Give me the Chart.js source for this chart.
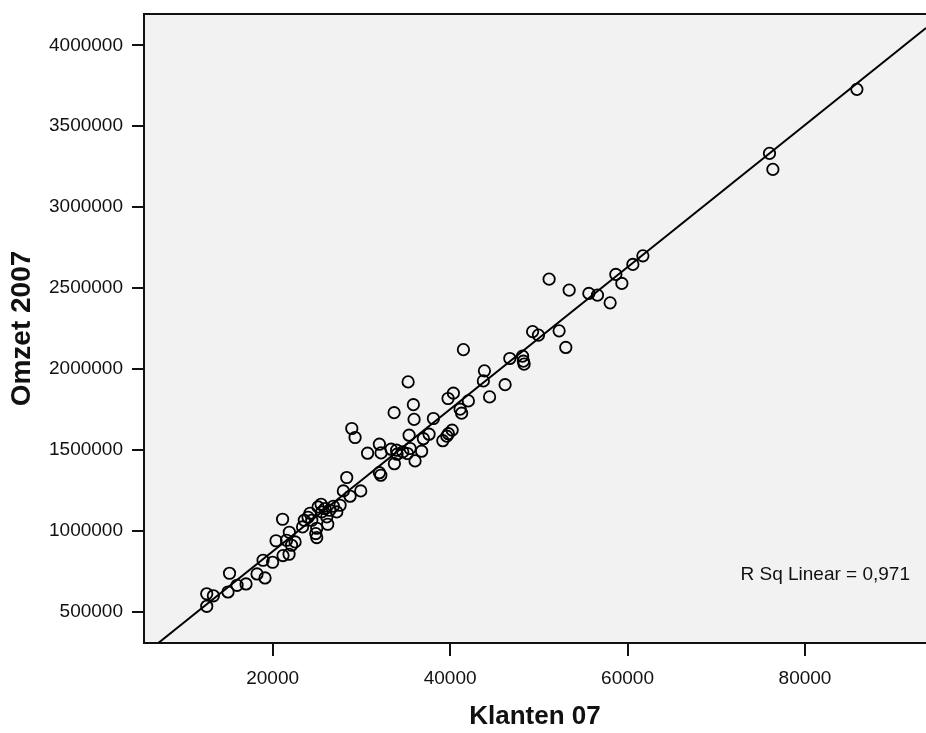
<!DOCTYPE html>
<html>
<head>
<meta charset="utf-8">
<script src="https://cdn.jsdelivr.net/npm/chart.js@4.4.1/dist/chart.umd.min.js"></script>
<style>
  body { margin: 0; background: #fff; }
</style>
</head>
<body>
<canvas id="grafico" width="926" height="733"></canvas>
<script>
// Klanten 07 (x) en Omzet 2007 (y)
var klanten = [
    12570, 13320, 12570, 15140, 14970, 15990, 17000, 18240, 19140, 18920,
    20000, 21120, 20380, 21170, 21850, 21570, 21880, 22530, 22130, 23370,
    23570, 24220, 24860, 24970, 25460, 25540, 25910, 26100, 26210, 26840,
    27230, 27600, 24410, 24970, 25120, 23990, 26420, 27970, 28350, 28730,
    29930, 28920, 29290, 30700, 32030, 32220, 32030, 32190, 33690, 33350,
    33970, 33720, 35270, 35860, 35940, 35380, 36050, 35490, 34670, 36790,
    37630, 36990, 38120, 39180, 39630, 39810, 40230, 39770, 40370, 41130,
    41300, 42060, 41500, 43870, 43750, 44450, 46200, 46730, 48170, 48260,
    48340, 49300, 49960, 52290, 53040, 51160, 53420, 55640, 56610, 58040,
    58680, 59360, 60600, 61730, 76000, 76380, 85850, 34020, 35190
];
var omzet = [
    610100, 597700, 532800, 736800, 621200, 662600, 670700, 732500, 707800, 817200,
    804800, 1070700, 937800, 846300, 854300, 940900, 990300, 930400, 910000, 1023100,
    1064600, 1107800, 982300, 957600, 1163500, 1115900, 1136900, 1085000, 1039800, 1151100,
    1115900, 1157300, 1064600, 1015100, 1146800, 1083100, 1126400, 1245700, 1328600, 1213000,
    1245700, 1631600, 1575900, 1478800, 1534500, 1480700, 1358300, 1342800, 1729300, 1503600,
    1497400, 1413900, 1919700, 1778800, 1687800, 1590100, 1431200, 1507900, 1486900, 1491200,
    1596300, 1568500, 1693400, 1556100, 1584000, 1599400, 1621100, 1817100, 1849900, 1750900,
    1726200, 1802200, 2118800, 1987800, 1925900, 1827000, 1902400, 2064400, 2078600, 2047700,
    2029200, 2230200, 2208500, 2235100, 2132500, 2554800, 2486800, 2466400, 2455800, 2408200,
    2583800, 2528200, 2645700, 2698900, 3332000, 3233100, 3727800, 1472700, 1477000
];

// regressielijn zoals in de figuur
var fitSlope = 43.93;
var fitIntercept = -6700;
var rSqLabel = 'R Sq Linear = 0,971';

var xMin = 5500, xMax = 93640;
var yMin = 305850, yMax = 4193500;
var xTicks = [20000, 40000, 60000, 80000];
var yTicks = [500000, 1000000, 1500000, 2000000, 2500000, 3000000, 3500000, 4000000];

var punten = klanten.map(function (k, i) { return { x: k, y: omzet[i] }; });

var xStart = (yMin - fitIntercept) / fitSlope;
var lijn = [
    { x: xStart, y: fitSlope * xStart + fitIntercept },
    { x: xMax, y: fitSlope * xMax + fitIntercept }
];

var plotFrame = {
    id: 'plotFrame',
    beforeDraw: function (chart) {
        var ctx = chart.ctx, a = chart.chartArea;
        ctx.save();
        ctx.fillStyle = '#f2f2f2';
        ctx.fillRect(a.left, a.top, a.right - a.left, a.bottom - a.top);
        ctx.restore();
    },
    afterDraw: function (chart) {
        var ctx = chart.ctx, a = chart.chartArea;
        ctx.save();
        ctx.strokeStyle = '#111';
        ctx.lineWidth = 2;
        ctx.beginPath();
        ctx.moveTo(a.left - 1, a.top);
        ctx.lineTo(a.right, a.top);
        ctx.stroke();
        ctx.font = '19px "Liberation Sans", Arial, sans-serif';
        ctx.fillStyle = '#111';
        ctx.textAlign = 'right';
        ctx.textBaseline = 'alphabetic';
        ctx.fillText(rSqLabel, a.right - 16, a.bottom - 63);
        ctx.restore();
    }
};

var tickFont = { family: '"Liberation Sans", Arial, sans-serif', size: 19 };
var xTitleFont = { family: '"Liberation Sans", Arial, sans-serif', size: 26, weight: 'bold' };
var yTitleFont = { family: '"Liberation Sans", Arial, sans-serif', size: 28, weight: 'bold' };

var ctx = document.querySelector('#grafico').getContext('2d');
var chart = new Chart(ctx, {
    type: 'scatter',
    data: {
        datasets: [{
            label: 'Omzet 2007',
            data: punten,
            pointStyle: 'circle',
            pointRadius: 5.7,
            borderWidth: 1.8,
            borderColor: '#000',
            backgroundColor: 'rgba(0,0,0,0)'
        }, {
            type: 'line',
            label: 'Fit',
            data: lijn,
            borderColor: '#000',
            borderWidth: 2,
            pointRadius: 0,
            fill: false
        }]
    },
    options: {
        responsive: false,
        animation: false,
        layout: { autoPadding: false, padding: { top: 14, right: 0, bottom: 0, left: 0 } },
        plugins: {
            legend: { display: false },
            tooltip: { enabled: false }
        },
        scales: {
            x: {
                type: 'linear',
                position: 'bottom',
                min: xMin,
                max: xMax,
                afterFit: function (s) {
                    s.height = 90;
                    s.paddingLeft = 0;
                    s.paddingRight = 0;
                },
                afterBuildTicks: function (s) { s.ticks = xTicks.map(function (v) { return { value: v }; }); },
                ticks: {
                    font: tickFont,
                    color: '#111',
                    padding: 11,
                    maxRotation: 0,
                    callback: function (v) { return String(v); }
                },
                grid: { drawOnChartArea: false, tickLength: 13, color: '#111', lineWidth: 2 },
                border: { display: true, color: '#111', width: 2 },
                title: { display: true, text: 'Klanten 07', font: xTitleFont, color: '#111', padding: { top: 0, bottom: 1 } }
            },
            y: {
                type: 'linear',
                min: yMin,
                max: yMax,
                afterFit: function (s) {
                    s.width = 144;
                    s.paddingTop = 0;
                    s.paddingBottom = 0;
                },
                afterBuildTicks: function (s) { s.ticks = yTicks.map(function (v) { return { value: v }; }); },
                ticks: {
                    font: tickFont,
                    color: '#111',
                    padding: 9,
                    callback: function (v) { return String(v); }
                },
                grid: { drawOnChartArea: false, tickLength: 12, color: '#111', lineWidth: 2 },
                border: { display: true, color: '#111', width: 2 },
                title: { display: true, text: 'Omzet 2007', font: yTitleFont, color: '#111', padding: { top: 5, bottom: 0 } }
            }
        }
    },
    plugins: [plotFrame]
});
</script>
</body>
</html>
